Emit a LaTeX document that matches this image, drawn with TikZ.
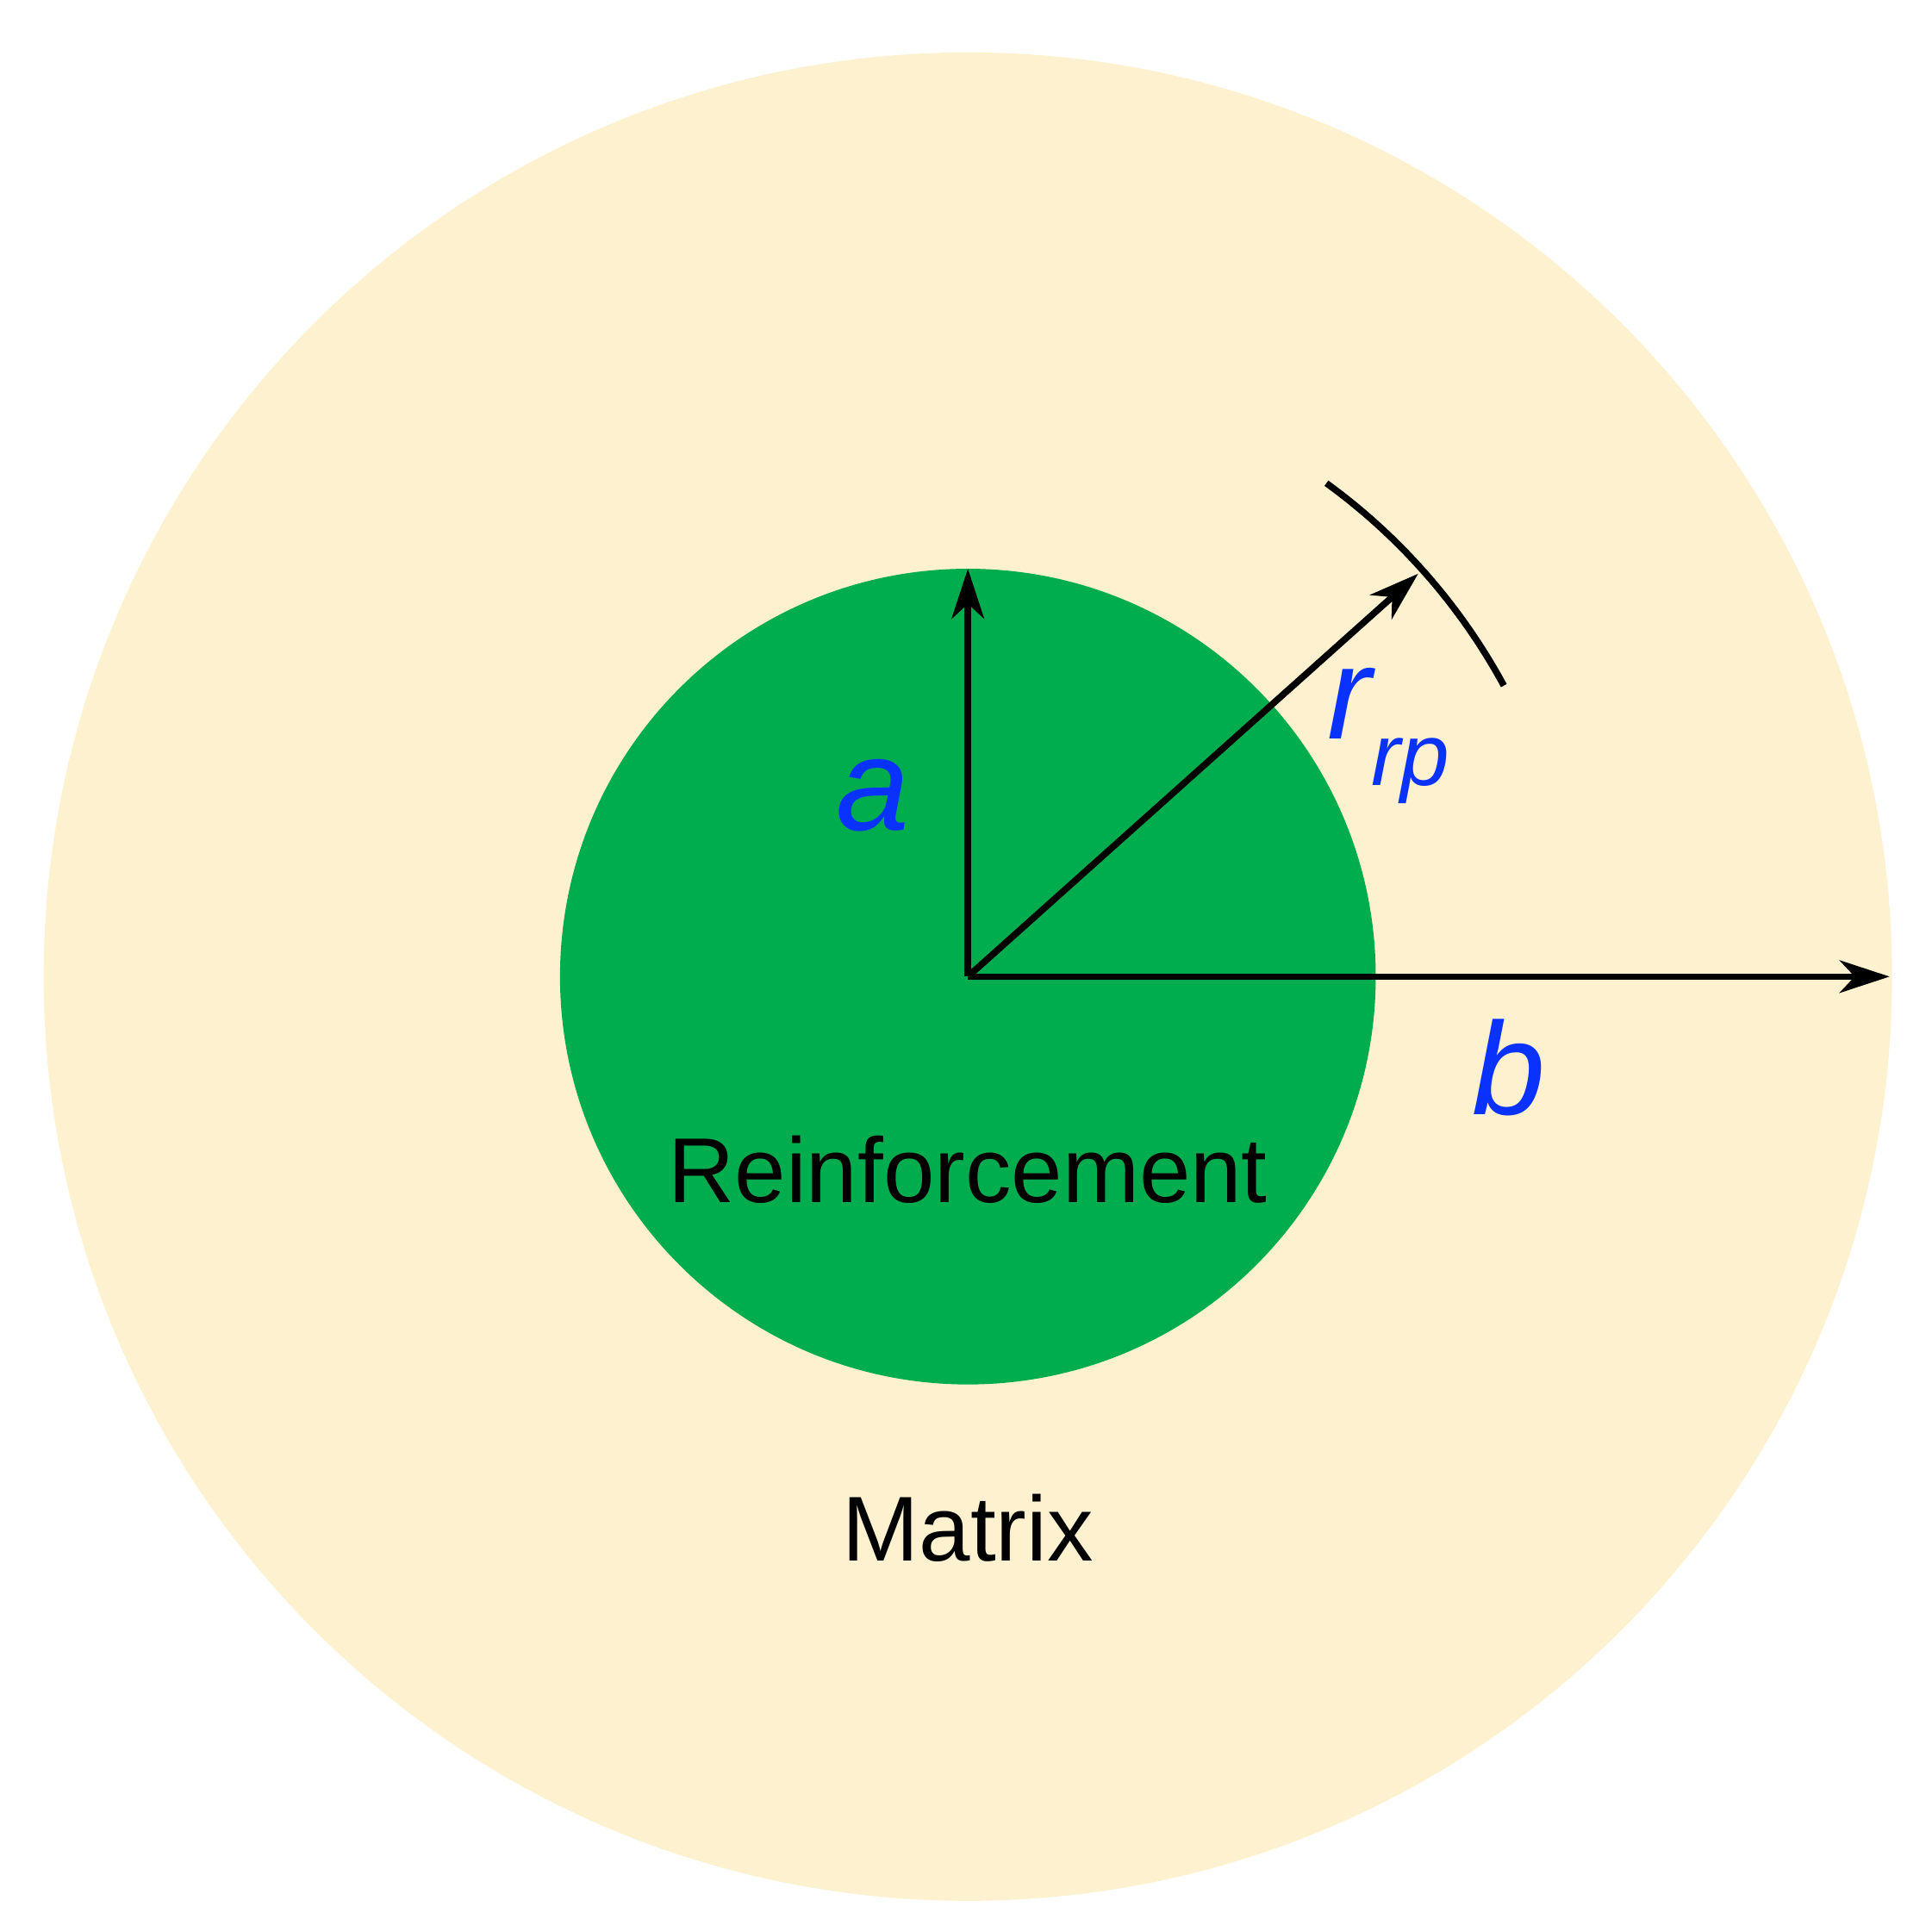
\documentclass[tikz,border=0pt]{standalone}
\usepackage{fontspec}
\setmainfont{Liberation Sans}
\usetikzlibrary{arrows.meta,calc}
\definecolor{matrixc}{HTML}{FEF1CF}
\definecolor{reinf}{HTML}{00AD4E}
\definecolor{lab}{HTML}{0A32FF}
\begin{document}
\begin{tikzpicture}[x=0.01cm,y=-0.01cm,
  vec/.style={line width=1.5pt,-{Stealth[length=0.4cm,width=0.26cm,inset=0.12cm]}},
  lbl/.style={text=lab,font=\fontsize{30}{30}\selectfont\itshape},
  txt/.style={font=\fontsize{21}{24}\selectfont}]
\useasboundingbox (0,0) rectangle (1549,1538);
\coordinate (O) at (776,783);
\fill[matrixc] (O) circle[radius=741];
\fill[reinf] (O) circle[radius=327];
\coordinate (A) at (776,456);
\coordinate (B) at (1515,783);
\coordinate (R) at (1137,460);
\draw[vec] (O) -- (A);
\draw[vec] (O) -- (B);
\draw[vec] (O) -- (R);
\draw[line width=1.5pt] ($(O)+(-54:489)$) arc[start angle=-54,end angle=-28.5,radius=489];
\node[lbl] (la) at (700,638) {a};
\node[lbl,anchor=west] (lr) at (1052,590) {r\raisebox{-0.35em}{\fontsize{20}{20}\selectfont rp}};
\node[lbl] (lb) at (1210,856) {b};
\node[txt] (rf) at (776,938) {Reinforcement};
\node[txt] (mx) at (776,1225) {Matrix};
\end{tikzpicture}
\end{document}
